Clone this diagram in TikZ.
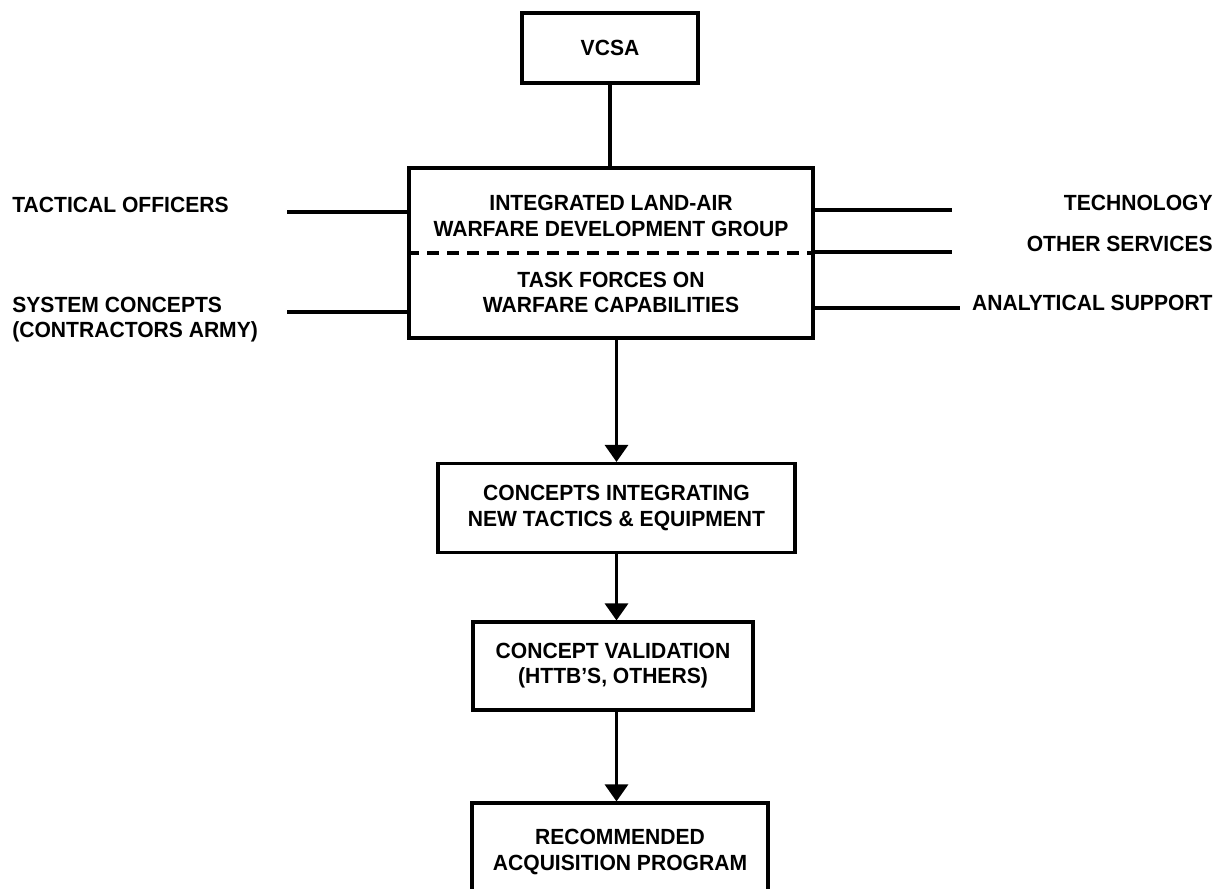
\documentclass[tikz,border=0pt]{standalone}
\usepackage{fontspec}
\setmainfont[FakeStretch=0.96]{Liberation Sans}
\usetikzlibrary{positioning, arrows.meta, calc}
\tikzset{
  caja/.style={rectangle, draw=black, line width=1.8pt, align=center, inner sep=0pt, font=\bfseries\fontsize{12.5}{14.3}\selectfont},
  texto/.style={align=center, inner sep=0pt, font=\bfseries\fontsize{12.5}{14.3}\selectfont},
  linea/.style={line width=1.8pt},
  flecha/.style={line width=1.8pt, -{Triangle[width=0.46cm,length=0.34cm]}},
  divisor/.style={line width=1.8pt, dash pattern=on 0.24cm off 0.16cm}
}

\begin{document}
\begin{tikzpicture}[x=0.02cm, y=-0.02cm]
    \clip (0,0) rectangle (1225,889);

    % 1. Cajas principales
    \node[caja, minimum width=3.52cm, minimum height=1.4cm] (vcsa) at (610,48) {VCSA};
    \node[caja, minimum width=8.08cm, minimum height=3.4cm] (grupo) at (611,253) {};
    \node[texto] (grupoSup) at (611,216) {INTEGRATED LAND-AIR\\WARFARE DEVELOPMENT GROUP};
    \node[texto] (grupoInf) at (611,292) {TASK FORCES ON\\WARFARE CAPABILITIES};
    \draw[divisor] (grupo.west) -- (grupo.east);

    \node[caja, minimum width=7.14cm, minimum height=1.78cm] (concepto) at (616.5,508) {CONCEPTS INTEGRATING\\NEW TACTICS \& EQUIPMENT};
    \node[caja, minimum width=5.6cm, minimum height=1.76cm] (validacion) at (613,666) {CONCEPT VALIDATION\\(HTTB'S, OTHERS)};
    \node[caja, minimum width=5.92cm, minimum height=1.96cm] (programa) at (620,852) {RECOMMENDED\\ACQUISITION PROGRAM};

    % 2. Etiquetas de entrada (izquierda)
    \node[texto, anchor=west] (tactico) at (12,205) {TACTICAL OFFICERS};
    \node[texto, anchor=west, align=left] (sistema) at (12,320) {SYSTEM CONCEPTS\\(CONTRACTORS ARMY)};

    % Etiquetas de entrada (derecha)
    \node[texto, anchor=east] (tecnologia) at (1213,203) {TECHNOLOGY};
    \node[texto, anchor=east] (servicios) at (1213,244) {OTHER SERVICES};
    \node[texto, anchor=east] (analitico) at (1213,303) {ANALYTICAL SUPPORT};

    % 3. Conexiones
    \draw[linea] (vcsa.south) -- (vcsa.south |- grupo.north);

    \coordinate (tacL) at (287,212);
    \coordinate (sisL) at (287,312);
    \draw[linea] (tacL) -- (tacL -| grupo.west);
    \draw[linea] (sisL) -- (sisL -| grupo.west);

    \coordinate (tecR) at (952,210);
    \coordinate (serR) at (952,252);
    \coordinate (anaR) at (960,308);
    \draw[linea] (tecR -| grupo.east) -- (tecR);
    \draw[linea] (serR -| grupo.east) -- (serR);
    \draw[linea] (anaR -| grupo.east) -- (anaR);

    % 4. Flechas hacia abajo
    \draw[flecha] (grupo.south -| concepto.north) -- (concepto.north);
    \draw[flecha] (concepto.south) -- (concepto.south |- validacion.north);
    \draw[flecha] (validacion.south -| concepto.south) -- (concepto.south |- programa.north);

\end{tikzpicture}
\end{document}
